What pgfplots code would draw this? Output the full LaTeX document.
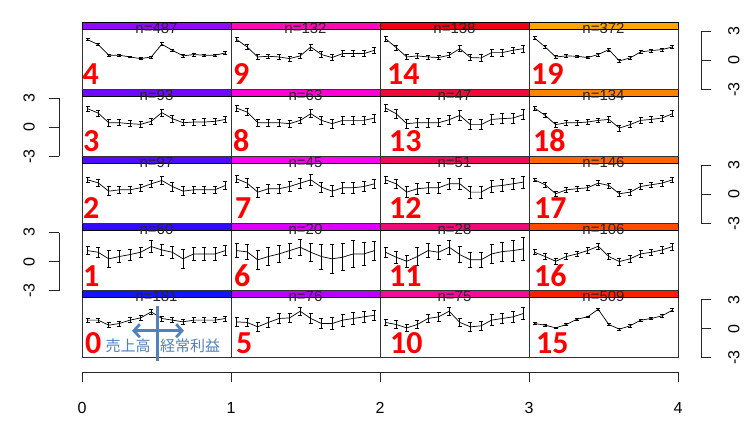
\documentclass[border=0pt]{standalone}
\usepackage{fontspec}
\setmainfont{Liberation Sans}
\newfontfamily\calfont{Carlito}
\newfontfamily\jpfont{Noto Sans CJK JP}
\usepackage{pgfplots}
\pgfplotsset{compat=1.18}
\usetikzlibrary{arrows.meta}

% strip colours, hue running blue -> magenta -> red -> orange
\definecolor{s0}{RGB}{20,20,255}
\definecolor{s1}{RGB}{50,10,255}
\definecolor{s2}{RGB}{80,10,255}
\definecolor{s3}{RGB}{110,10,255}
\definecolor{s4}{RGB}{145,10,255}
\definecolor{s5}{RGB}{185,0,255}
\definecolor{s6}{RGB}{220,0,250}
\definecolor{s7}{RGB}{250,0,240}
\definecolor{s8}{RGB}{255,0,215}
\definecolor{s9}{RGB}{255,10,180}
\definecolor{s10}{RGB}{245,10,155}
\definecolor{s11}{RGB}{240,10,120}
\definecolor{s12}{RGB}{240,10,90}
\definecolor{s13}{RGB}{240,10,55}
\definecolor{s14}{RGB}{240,0,20}
\definecolor{s15}{RGB}{255,30,0}
\definecolor{s16}{RGB}{255,75,0}
\definecolor{s17}{RGB}{255,100,0}
\definecolor{s18}{RGB}{255,130,0}
\definecolor{s19}{RGB}{255,165,0}
\definecolor{annot}{RGB}{79,129,189}

\pgfplotsset{
  panel/.style={
    scale only axis, width=149pt, height=67pt, anchor=south west,
    xmin=0.48, xmax=14.52, ymin=-3, ymax=3.92,
    ticks=none, clip=false,
    axis line style={black!80, line width=0.8pt},
  },
  bracket/.style={
    scale only axis, width=1pt, height=58.1pt, anchor=south west,
    xmin=0, xmax=1, ymin=-3, ymax=3,
    ytick={-3,0,3}, yticklabels={\textup{-3},\textup{0},\textup{3}}, axis x line=none,
    tick align=outside, major tick length=10pt,
    axis line style={black!85, line width=0.8pt},
    every tick/.style={black!85, line width=0.8pt},
    tick label style={font=\fontsize{16}{16}\selectfont, inner sep=0pt},
  },
  leftbr/.style={bracket, axis y line*=left,
    yticklabel style={xshift=-14pt, rotate=90, anchor=south}},
  rightbr/.style={bracket, axis y line*=right,
    yticklabel style={xshift=17pt, rotate=90, anchor=north}},
}

% #1 column, #2 row, #3 index, #4 n, #5 shift of the red number, #6 table
\newcommand{\panel}[6]{%
\begin{axis}[panel, at={({82pt+149pt*#1},{68.3pt+67.1pt*#2})}]
\addplot[black, line width=0.7pt,
  error bars/.cd, y dir=both, y explicit,
  error bar style={line width=0.7pt},
  error mark options={rotate=90, mark size=2pt, line width=0.7pt}]
  table[row sep=\\, x expr=\coordindex+1, y=y, y error=e]{#6};
\filldraw[fill=s#3, draw=black, line width=0.8pt]
  (rel axis cs:0,0.896) rectangle (rel axis cs:1,1);
\node[text=black!85, font=\fontsize{15}{15}\selectfont, yshift=-2.5pt]
  at (rel axis cs:0.5,0.948) {n=#4};
\node[anchor=base west, inner sep=0pt, text=red,
  font=\calfont\bfseries\fontsize{32}{32}\selectfont, xshift=#5pt, yshift=4.5pt]
  at (rel axis cs:0,0) {#3};
\end{axis}}

\begin{document}
\begin{tikzpicture}
\path[use as bounding box] (0,0) rectangle (744pt,426pt);

\panel{0}{0}{0}{181}{3}{y e\\ 0.88 .20\\ 0.88 .22\\ 0.36 .25\\ 0.53 .25\\ 0.88 .25\\ 1.11 .25\\ 1.73 .30\\
  1.05 .25\\ 0.88 .25\\ 0.70 .25\\ 0.88 .25\\ 0.88 .25\\ 0.88 .25\\ 1.05 .27\\}
\panel{0}{1}{1}{60}{1}{y e\\ 1.13 .40\\ 0.96 .50\\ 0.28 .90\\ 0.52 .60\\ 0.72 .55\\ 0.96 .55\\ 1.55 .60\\
  1.20 .60\\ 0.96 .65\\ 0.28 .95\\ 0.79 .70\\ 0.79 .70\\ 0.79 .65\\ 1.13 .50\\}
\panel{0}{2}{2}{97}{1}{y e\\ 1.51 .30\\ 1.20 .35\\ 0.34 .45\\ 0.48 .40\\ 0.48 .40\\ 0.69 .35\\ 1.10 .35\\
  1.44 .40\\ 0.82 .45\\ 0.34 .45\\ 0.48 .40\\ 0.48 .40\\ 0.48 .40\\ 0.93 .45\\}
\panel{0}{3}{3}{93}{1}{y e\\ 1.93 .25\\ 1.48 .30\\ 0.48 .35\\ 0.48 .30\\ 0.38 .30\\ 0.31 .30\\ 0.62 .30\\
  1.52 .35\\ 0.90 .35\\ 0.48 .30\\ 0.55 .30\\ 0.55 .35\\ 0.62 .35\\ 0.82 .35\\}
\panel{0}{4}{4}{487}{0.5}{y e\\ 2.13 .10\\ 1.62 .10\\ 0.52 .08\\ 0.52 .08\\ 0.34 .08\\ 0.17 .08\\ 0.34 .10\\
  1.65 .15\\ 1.03 .12\\ 0.45 .12\\ 0.59 .14\\ 0.52 .14\\ 0.52 .14\\ 0.76 .16\\}
\panel{1}{0}{5}{76}{5}{y e\\ 0.70 .45\\ 0.64 .45\\ 0.19 .45\\ 0.64 .50\\ 1.05 .50\\ 1.11 .45\\ 1.80 .45\\
  1.05 .50\\ 0.53 .55\\ 0.53 .60\\ 0.88 .60\\ 1.05 .60\\ 1.22 .55\\ 1.39 .50\\}
\panel{1}{1}{6}{20}{3}{y e\\ 1.13 .70\\ 1.00 .80\\ 0.18 1.00\\ 0.52 .90\\ 0.79 .90\\ 1.13 .80\\ 1.48 .80\\
  0.96 .90\\ 0.52 1.30\\ 0.28 1.50\\ 0.45 1.40\\ 0.79 1.40\\ 0.79 1.20\\ 1.13 1.00\\}
\panel{1}{2}{7}{45}{4}{y e\\ 1.62 .35\\ 1.17 .45\\ 0.24 .50\\ 0.59 .50\\ 0.59 .50\\ 0.82 .50\\ 1.17 .50\\
  1.51 .60\\ 0.76 .50\\ 0.34 .55\\ 0.69 .55\\ 0.69 .55\\ 0.82 .50\\ 1.10 .50\\}
\panel{1}{3}{8}{63}{2}{y e\\ 1.99 .30\\ 1.58 .35\\ 0.48 .35\\ 0.48 .35\\ 0.48 .35\\ 0.38 .35\\ 0.72 .35\\
  1.41 .40\\ 0.72 .40\\ 0.38 .45\\ 0.72 .40\\ 0.72 .40\\ 0.72 .40\\ 0.96 .40\\}
\panel{1}{4}{9}{132}{2}{y e\\ 2.16 .20\\ 1.37 .25\\ 0.34 .25\\ 0.41 .25\\ 0.34 .25\\ 0.17 .25\\ 0.45 .25\\
  1.37 .30\\ 0.59 .30\\ 0.28 .30\\ 0.69 .30\\ 0.69 .30\\ 0.69 .30\\ 1.03 .30\\}
\panel{2}{0}{10}{75}{10}{y e\\ 0.64 .35\\ 0.43 .40\\ 0.08 .40\\ 0.43 .45\\ 1.05 .45\\ 1.22 .45\\ 1.80 .45\\
  0.64 .45\\ 0.19 .50\\ 0.29 .50\\ 0.88 .55\\ 1.05 .55\\ 1.22 .55\\ 1.57 .65\\}
\panel{2}{1}{11}{28}{9}{y e\\ 0.96 .50\\ 0.45 .60\\ 0.03 .65\\ 0.52 .90\\ 1.13 .70\\ 0.96 .75\\ 1.48 .70\\
  0.72 .80\\ 0.18 .80\\ 0.18 .80\\ 0.79 1.00\\ 1.03 1.00\\ 1.13 1.10\\ 1.31 1.20\\}
\panel{2}{2}{12}{51}{9}{y e\\ 1.51 .40\\ 1.10 .50\\ 0.24 .55\\ 0.59 .55\\ 0.69 .55\\ 0.69 .55\\ 1.10 .55\\
  1.10 .60\\ 0.24 .60\\ 0.24 .60\\ 0.82 .60\\ 0.93 .60\\ 1.10 .60\\ 1.27 .65\\}
\panel{2}{3}{13}{47}{9}{y e\\ 1.99 .35\\ 1.41 .45\\ 0.38 .45\\ 0.48 .45\\ 0.48 .45\\ 0.48 .40\\ 0.79 .45\\
  1.24 .50\\ 0.28 .50\\ 0.28 .50\\ 0.82 .50\\ 0.90 .50\\ 0.96 .50\\ 1.31 .50\\}
\panel{2}{4}{14}{138}{7}{y e\\ 2.23 .25\\ 1.31 .25\\ 0.34 .25\\ 0.45 .25\\ 0.34 .20\\ 0.28 .20\\ 0.52 .25\\
  1.20 .30\\ 0.28 .30\\ 0.24 .35\\ 0.79 .35\\ 0.79 .35\\ 1.03 .35\\ 1.20 .35\\}
\panel{3}{0}{15}{509}{7}{y e\\ 0.53 .10\\ 0.36 .10\\ 0.08 .10\\ 0.43 .10\\ 0.98 .10\\ 1.22 .10\\ 2.00 .12\\
  0.43 .12\\ -0.05 .12\\ 0.29 .12\\ 0.88 .12\\ 1.05 .12\\ 1.32 .12\\ 1.91 .14\\}
\panel{3}{1}{16}{106}{5}{y e\\ 0.96 .25\\ 0.52 .30\\ 0.03 .30\\ 0.52 .30\\ 0.79 .30\\ 1.13 .30\\ 1.58 .30\\
  0.52 .30\\ 0.00 .35\\ 0.28 .35\\ 0.79 .35\\ 0.96 .35\\ 1.20 .35\\ 1.55 .35\\}
\panel{3}{2}{17}{146}{5}{y e\\ 1.51 .20\\ 1.00 .25\\ 0.07 .25\\ 0.48 .25\\ 0.59 .25\\ 0.69 .25\\ 1.17 .25\\
  0.93 .25\\ 0.07 .30\\ 0.24 .30\\ 0.82 .30\\ 1.00 .30\\ 1.17 .30\\ 1.51 .30\\}
\panel{3}{3}{18}{134}{4}{y e\\ 1.99 .20\\ 1.24 .25\\ 0.28 .25\\ 0.48 .25\\ 0.48 .25\\ 0.55 .25\\ 0.72 .25\\
  0.82 .30\\ -0.07 .30\\ 0.28 .30\\ 0.72 .30\\ 0.82 .30\\ 0.96 .30\\ 1.41 .30\\}
\panel{3}{4}{19}{372}{2}{y e\\ 2.30 .12\\ 1.37 .12\\ 0.34 .12\\ 0.45 .12\\ 0.41 .12\\ 0.28 .12\\ 0.59 .14\\
  1.10 .16\\ -0.07 .16\\ 0.24 .16\\ 0.86 .16\\ 1.00 .16\\ 1.10 .16\\ 1.37 .16\\}

% y axes, alternating sides
\begin{axis}[leftbr, at={(59pt,269.55pt)}]
\end{axis}
\begin{axis}[leftbr, at={(59pt,135.35pt)}]
\end{axis}
\begin{axis}[rightbr, at={(700pt,336.65pt)}]
\end{axis}
\begin{axis}[rightbr, at={(700pt,202.45pt)}]
\end{axis}
\begin{axis}[rightbr, at={(700pt,68.25pt)}]
\end{axis}

% bottom axis
\begin{axis}[scale only axis, width=596pt, height=10pt, at={(82pt,54pt)}, anchor=south west,
  xmin=0, xmax=4, ymin=0, ymax=1, axis x line*=bottom, axis y line=none,
  xtick={0,1,2,3,4}, xticklabels={\textup{0},\textup{1},\textup{2},\textup{3},\textup{4}},
  tick align=outside, major tick length=10pt,
  axis line style={black!85, line width=0.8pt},
  every tick/.style={black!85, line width=0.8pt},
  tick label style={font=\fontsize{16}{16}\selectfont, inner sep=0pt},
  xticklabel style={anchor=north, yshift=-20pt}]
\end{axis}

% annotation in panel 0
\draw[annot, line width=2.7pt] (157.5pt,120pt) -- (157.5pt,65pt);
\draw[annot, line width=2.7pt, {Straight Barb[length=6pt,width=13pt]}-{Straight Barb[length=6pt,width=13pt]}]
  (132pt,95.3pt) -- (184pt,95.3pt);
\node[text=annot, font=\jpfont\fontsize{15}{15}\selectfont] at (128pt,80.5pt) {売上高};
\node[text=annot, font=\jpfont\fontsize{15}{15}\selectfont] at (190pt,80.5pt) {経常利益};
\end{tikzpicture}
\end{document}
